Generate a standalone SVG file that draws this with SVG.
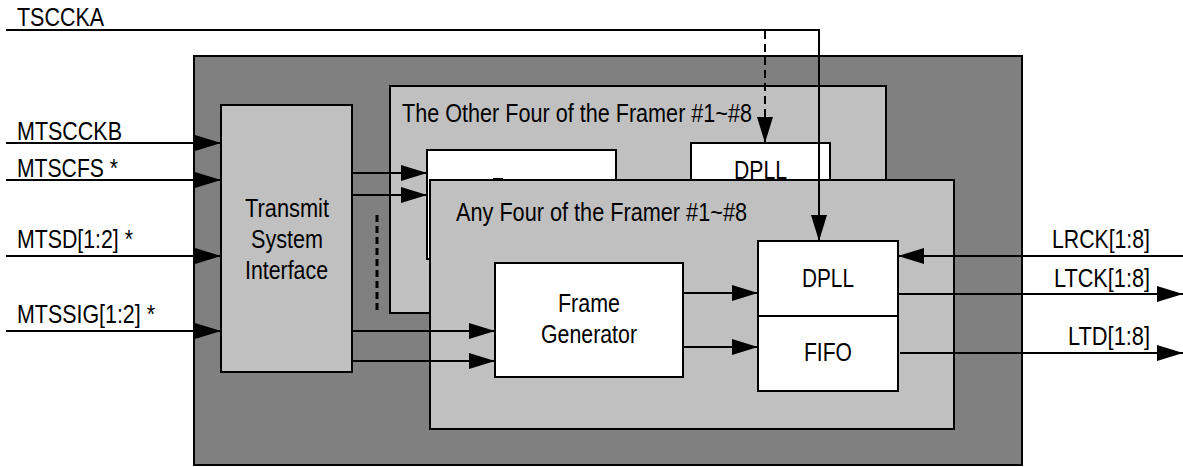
<svg xmlns="http://www.w3.org/2000/svg" width="1183" height="467" viewBox="0 0 1183 467">
<style>
.box{stroke:#000;stroke-width:2}
.dark{fill:#808080}
.light{fill:#c0c0c0}
.white{fill:#fff}
.w{stroke:#000;stroke-width:2;fill:none}
.dash{stroke:#000;stroke-width:2;fill:none;stroke-dasharray:8 5}
text{font-family:"Liberation Sans",Arial,sans-serif;font-size:26.5px;fill:#000}
</style>
<defs>
<marker id="ah" markerUnits="userSpaceOnUse" markerWidth="26" markerHeight="16" refX="26" refY="8" orient="auto">
<path d="M0,0 L26,8 L0,16 z" fill="#000"/>
</marker>
</defs>
<g id="device">
<rect class="box dark" x="194" y="56" width="828" height="409"/>
</g>
<g id="transmit">
<rect class="box light" x="221" y="105" width="131" height="267"/>
<text x="245" y="217" textLength="84" lengthAdjust="spacingAndGlyphs">Transmit</text>
<text x="251" y="248" textLength="72" lengthAdjust="spacingAndGlyphs">System</text>
<text x="245" y="279" textLength="83" lengthAdjust="spacingAndGlyphs">Interface</text>
</g>
<g id="other-four">
<rect class="box light" x="390" y="86" width="496" height="227"/>
<text x="402" y="122" textLength="350" lengthAdjust="spacingAndGlyphs">The Other Four of the Framer #1~#8</text>
<rect class="box white" x="427" y="150" width="189" height="109"/>
<rect x="493" y="178" width="10" height="3" fill="#000"/>
<rect class="box white" x="691" y="143" width="139" height="50"/>
<text x="734" y="179" textLength="53" lengthAdjust="spacingAndGlyphs">DPLL</text>
</g>
<g id="connectors-back">
<line class="w" x1="352" y1="173" x2="427" y2="173" marker-end="url(#ah)"/>
<line class="w" x1="352" y1="195" x2="427" y2="195" marker-end="url(#ah)"/>
<line x1="377" y1="215" x2="377" y2="312" stroke="#000" stroke-width="3" stroke-dasharray="7 4"/>
</g>
<g id="any-four">
<rect class="box light" x="430" y="180" width="524" height="249"/>
<text x="456" y="221" textLength="291" lengthAdjust="spacingAndGlyphs">Any Four of the Framer #1~#8</text>
</g>
<g id="frame-generator">
<rect class="box white" x="495" y="263" width="188" height="114"/>
<text x="558" y="312" textLength="62" lengthAdjust="spacingAndGlyphs">Frame</text>
<text x="541" y="343" textLength="96" lengthAdjust="spacingAndGlyphs">Generator</text>
</g>
<g id="dpll">
<rect class="box white" x="758" y="241" width="140" height="75"/>
<text x="802" y="287" textLength="52" lengthAdjust="spacingAndGlyphs">DPLL</text>
</g>
<g id="fifo">
<rect class="box white" x="758" y="316" width="140" height="75"/>
<text x="804" y="361" textLength="48" lengthAdjust="spacingAndGlyphs">FIFO</text>
</g>
<g id="connectors">
<line class="w" x1="6" y1="143" x2="221" y2="143" marker-end="url(#ah)"/>
<line class="w" x1="6" y1="180" x2="221" y2="180" marker-end="url(#ah)"/>
<line class="w" x1="6" y1="256" x2="221" y2="256" marker-end="url(#ah)"/>
<line class="w" x1="6" y1="331" x2="221" y2="331" marker-end="url(#ah)"/>
<line class="w" x1="352" y1="331" x2="495" y2="331" marker-end="url(#ah)"/>
<line class="w" x1="352" y1="361" x2="495" y2="361" marker-end="url(#ah)"/>
<line class="w" x1="683" y1="293" x2="758" y2="293" marker-end="url(#ah)"/>
<line class="w" x1="683" y1="347" x2="758" y2="347" marker-end="url(#ah)"/>
<polyline class="w" points="6,30 819,30 819,241" marker-end="url(#ah)"/>
<line class="dash" x1="765" y1="31" x2="765" y2="143" marker-end="url(#ah)"/>
<line class="w" x1="1183" y1="256" x2="898" y2="256" marker-end="url(#ah)"/>
<line class="w" x1="898" y1="294" x2="1183" y2="294" marker-end="url(#ah)"/>
<line class="w" x1="900" y1="353" x2="1183" y2="353" marker-end="url(#ah)"/>
</g>
<g id="labels">
<text x="17" y="26" textLength="87" lengthAdjust="spacingAndGlyphs">TSCCKA</text>
<text x="17" y="140" textLength="105" lengthAdjust="spacingAndGlyphs">MTSCCKB</text>
<text x="17" y="177" textLength="101" lengthAdjust="spacingAndGlyphs">MTSCFS *</text>
<text x="17" y="248" textLength="116" lengthAdjust="spacingAndGlyphs">MTSD[1:2] *</text>
<text x="17" y="323" textLength="138" lengthAdjust="spacingAndGlyphs">MTSSIG[1:2] *</text>
<text x="1052" y="248" textLength="98" lengthAdjust="spacingAndGlyphs">LRCK[1:8]</text>
<text x="1054" y="287" textLength="96" lengthAdjust="spacingAndGlyphs">LTCK[1:8]</text>
<text x="1068" y="345" textLength="82" lengthAdjust="spacingAndGlyphs">LTD[1:8]</text>
</g>
</svg>
